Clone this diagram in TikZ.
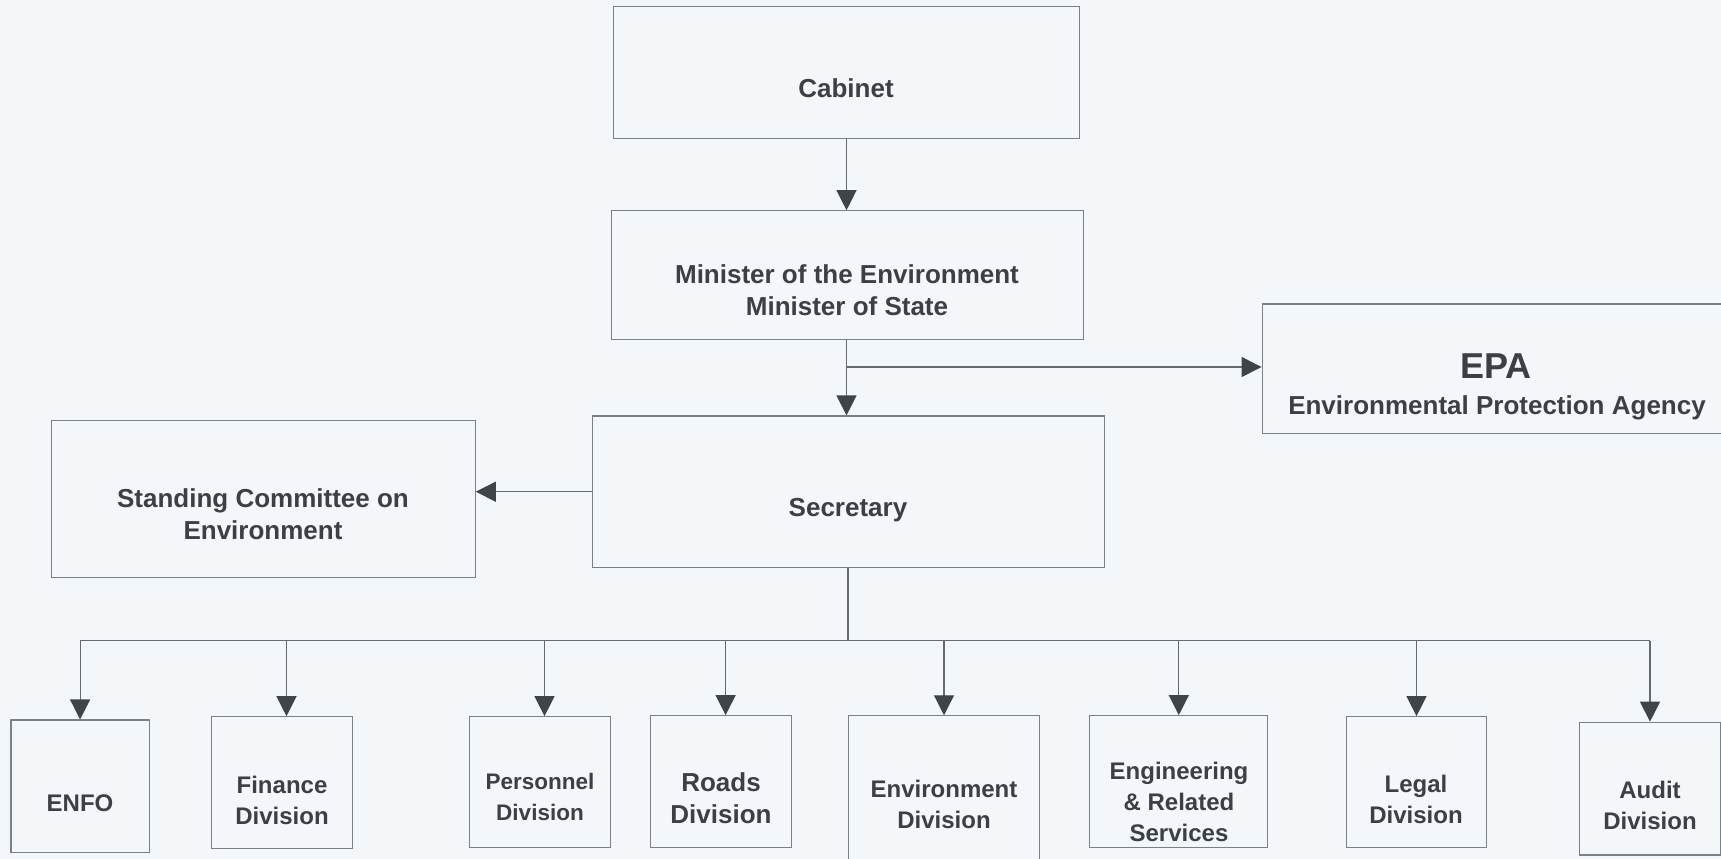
\documentclass[tikz,border=0pt]{standalone}
\usepackage{fontspec}
\setmainfont{Liberation Sans}
\usetikzlibrary{arrows.meta}
\definecolor{bg}{HTML}{F3F7F9}
\definecolor{ln}{HTML}{656B71}
\definecolor{ah}{HTML}{3F4449}
\definecolor{bx}{HTML}{7A8086}
\definecolor{tx}{HTML}{3C4046}
\begin{document}
\begin{tikzpicture}[x=1pt,y=-1pt,
 box/.style={draw=bx, line width=1.1pt, rectangle, inner sep=0pt},
 lbl/.style={text=tx, font=\bfseries\fontsize{26}{32}\selectfont, align=center, inner sep=0pt},
 sml/.style={text=tx, font=\bfseries\fontsize{24}{31}\selectfont, align=center, inner sep=0pt},
 arr/.style={draw=ln, line width=1.2pt, -{Triangle[width=20pt,length=20pt,color=ah,fill=ah]}},
 con/.style={draw=ln, line width=1.2pt}]
\fill[bg] (0,0) rectangle (1721,859);
\useasboundingbox (0,0) rectangle (1721,859);
\clip (0,0) rectangle (1721,859);
% boxes
\node[box, minimum width=465.5pt, minimum height=131.7pt] (cab) at (846.3,72.4) {};
\node[box, minimum width=472pt, minimum height=128.5pt] (min) at (847.3,275) {};
\node[box, minimum width=511.5pt, minimum height=151.5pt] (sec) at (848.4,491.7) {};
\node[box, minimum width=423.7pt, minimum height=157pt] (stc) at (263.4,498.8) {};
\node[box, minimum width=467.8pt, minimum height=129.6pt] (epa) at (1496,368.8) {};
\node[box, minimum width=138.3pt, minimum height=132.8pt] (enfo) at (80.1,786.4) {};
\node[box, minimum width=140.5pt, minimum height=131.7pt] (fin) at (282,782.6) {};
\node[box, minimum width=140.5pt, minimum height=130.6pt] (per) at (540,782) {};
\node[box, minimum width=140.5pt, minimum height=131.7pt] (rds) at (721.1,781.5) {};
\node[box, minimum width=191pt, minimum height=146.4pt] (env) at (944,789) {};
\node[box, minimum width=177.8pt, minimum height=131.7pt] (eng) at (1178.8,781.5) {};
\node[box, minimum width=139.3pt, minimum height=130.6pt] (leg) at (1416.5,782) {};
\node[box, minimum width=141.6pt, minimum height=132.8pt] (aud) at (1650,788.6) {};
% labels
\node[lbl] (cabt) at (846,88) {Cabinet};
\node[lbl] (mint) at (847,290) {Minister of the Environment\\Minister of State};
\node[lbl] (sect) at (848,510) {Secretary};
\node[lbl] (stct) at (263,514) {Standing Committee on\\Environment};
\node[text=tx, font=\bfseries\fontsize{36}{40}\selectfont, inner sep=0pt] (epat) at (1496,366) {EPA};
\node[lbl] (epas) at (1497,407.5) {Environmental Protection Agency};
\node[sml] (enfot) at (80,803) {ENFO};
\node[sml] (fint) at (282,800) {Finance\\Division};
\node[sml, font=\bfseries\fontsize{22.5}{31}\selectfont] (pert) at (540,797) {Personnel\\Division};
\node[sml, font=\bfseries\fontsize{26}{32}\selectfont] (rdst) at (721,798.5) {Roads\\Division};
\node[sml] (envt) at (944,804) {Environment\\Division};
\node[sml] (engt) at (1179,802) {Engineering\\\& Related\\Services};
\node[sml] (legt) at (1416,799) {Legal\\Division};
\node[sml] (audt) at (1650,805.6) {Audit\\Division};
% connectors
\coordinate (top) at (846.5,0);
\draw[arr] (top |- cab.south) -- (top |- min.north);
\draw[arr] (top |- min.south) -- (top |- sec.north);
\coordinate (br) at (846.5,367);
\draw[arr] (br) -- (br -| epa.west);
\draw[arr] (sec.west) -- (sec.west -| stc.east);
\coordinate (bus) at (848,640.5);
\draw[con] (bus |- sec.south) -- (bus);
\draw[con] (bus -| enfo.north) -- (bus -| aud.north);
\foreach \n/\dx in {enfo/0,fin/4.5,per/4.5,rds/4.5,env/0,eng/0,leg/0,aud/0}{
  \draw[arr] ([xshift=\dx pt]bus -| \n.north) -- ([xshift=\dx pt]\n.north);
}
\end{tikzpicture}
\end{document}
